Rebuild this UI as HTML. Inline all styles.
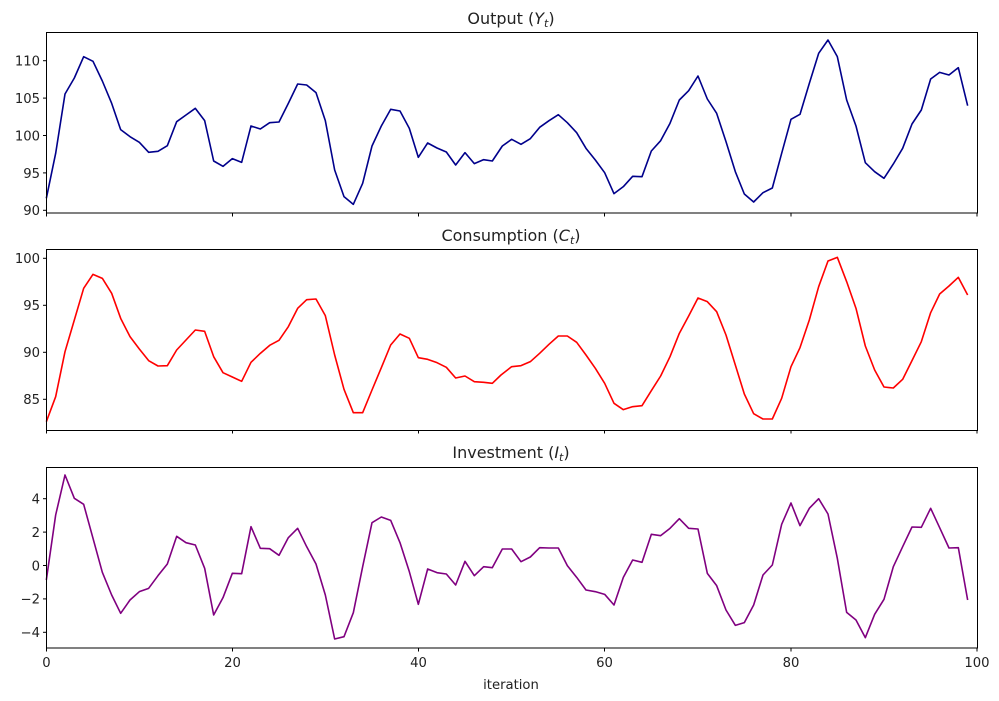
<!DOCTYPE html>
<html><head><meta charset="utf-8"><style>body{margin:0;background:#fff}svg{display:block}text{font-family:"DejaVu Sans","Liberation Sans",sans-serif;fill:#222}</style></head><body>
<svg width="999" height="701" viewBox="0 0 999 701" xmlns="http://www.w3.org/2000/svg">
<rect width="999" height="701" fill="#fff"/>
<g font-size="13.2">
<!-- Panel 1 -->
<text x="511" y="24" text-anchor="middle" font-size="16">Output (<tspan font-style="italic">Y</tspan><tspan font-style="italic" font-size="11" dy="3">t</tspan><tspan dy="-3">)</tspan></text>
<g transform="translate(0,20) scale(0.33333)">
<polyline fill="none" stroke="#00008b" stroke-width="1.6" vector-effect="non-scaling-stroke" stroke-linejoin="round" points="139,535 167,400 195,222 223,174 251,110 279,124 307,183 335,250 362,329 390,350 418,367 446,397 474,394 502,377 530,305 558,285 586,265 614,302 641,423 669,439 697,416 725,427 753,318 781,327 809,308 837,306 865,250 893,192 920,195 948,218 976,302 1004,450 1032,530 1060,553 1088,490 1116,378 1144,318 1172,268 1200,273 1228,325 1255,412 1283,369 1311,384 1339,396 1367,435 1395,398 1423,431 1451,419 1477,423 1507,378 1535,358 1563,373 1591,356 1619,322 1647,302 1675,284 1702,308 1730,338 1758,385 1786,420 1814,458 1842,521 1870,500 1898,469 1926,470 1954,393 1982,362 2010,310 2038,240 2066,212 2094,168 2122,237 2150,280 2178,365 2206,455 2233,522 2261,546 2289,518 2317,504 2345,400 2373,298 2400,283 2428,190 2456,100 2484,60 2512,110 2540,240 2568,318 2596,428 2624,455 2652,475 2680,432 2708,385 2736,312 2764,270 2792,177 2819,157 2847,165 2875,143 2903,257"/>
</g>
<rect x="46.5" y="32.5" width="931" height="180.5" fill="none" stroke="#000" stroke-width="1"/>
<g stroke="#000"><line x1="43" x2="46" y1="60.7" y2="60.7"/><line x1="43" x2="46" y1="98.1" y2="98.1"/><line x1="43" x2="46" y1="135.5" y2="135.5"/><line x1="43" x2="46" y1="172.9" y2="172.9"/><line x1="43" x2="46" y1="210.3" y2="210.3"/>
<line x1="46.5" x2="46.5" y1="213" y2="216.5"/><line x1="232.5" x2="232.5" y1="213" y2="216.5"/><line x1="418.5" x2="418.5" y1="213" y2="216.5"/><line x1="604.5" x2="604.5" y1="213" y2="216.5"/><line x1="791" x2="791" y1="213" y2="216.5"/><line x1="977" x2="977" y1="213" y2="216.5"/></g>
<g text-anchor="end"><text x="40" y="65.5">110</text><text x="40" y="103">105</text><text x="40" y="140.4">100</text><text x="40" y="177.8">95</text><text x="40" y="215.2">90</text></g>

<!-- Panel 2 -->
<text x="511" y="241" text-anchor="middle" font-size="16">Consumption (<tspan font-style="italic">C</tspan><tspan font-style="italic" font-size="11" dy="3">t</tspan><tspan dy="-3">)</tspan></text>
<g transform="translate(0,240) scale(0.33333)">
<polyline fill="none" stroke="#ff0000" stroke-width="1.6" vector-effect="non-scaling-stroke" stroke-linejoin="round" points="139,545 167,470 195,335 223,240 251,145 279,103 307,115 335,160 362,235 390,290 418,327 446,362 474,378 502,377 530,330 558,300 586,270 614,274 641,350 669,398 697,411 725,424 753,367 781,340 809,316 837,301 865,260 893,205 920,179 948,177 976,227 1004,345 1032,448 1060,518 1088,518 1116,450 1144,383 1172,315 1200,282 1228,295 1255,353 1283,358 1311,368 1339,382 1367,414 1395,408 1423,425 1451,427 1477,430 1503,405 1535,380 1563,377 1591,365 1619,340 1647,313 1675,288 1702,288 1730,307 1758,345 1786,385 1814,430 1842,490 1870,509 1898,500 1926,497 1954,452 1982,408 2010,350 2038,280 2066,228 2094,174 2122,185 2150,215 2178,285 2206,375 2233,462 2261,521 2289,537 2317,537 2345,475 2373,380 2400,323 2428,240 2456,140 2484,63 2512,52 2540,125 2568,205 2596,318 2624,390 2652,441 2680,444 2708,418 2736,362 2764,305 2792,218 2819,162 2847,138 2875,112 2903,165"/>
</g>
<rect x="46.5" y="249.5" width="931" height="181" fill="none" stroke="#000" stroke-width="1"/>
<g stroke="#000"><line x1="43" x2="46" y1="258.3" y2="258.3"/><line x1="43" x2="46" y1="305.3" y2="305.3"/><line x1="43" x2="46" y1="352.3" y2="352.3"/><line x1="43" x2="46" y1="399.3" y2="399.3"/>
<line x1="46.5" x2="46.5" y1="430" y2="433.5"/><line x1="232.5" x2="232.5" y1="430" y2="433.5"/><line x1="418.5" x2="418.5" y1="430" y2="433.5"/><line x1="604.5" x2="604.5" y1="430" y2="433.5"/><line x1="791" x2="791" y1="430" y2="433.5"/><line x1="977" x2="977" y1="430" y2="433.5"/></g>
<g text-anchor="end"><text x="40" y="263.1">100</text><text x="40" y="310.1">95</text><text x="40" y="357.1">90</text><text x="40" y="404.1">85</text></g>

<!-- Panel 3 -->
<text x="511" y="458" text-anchor="middle" font-size="16">Investment (<tspan font-style="italic">I</tspan><tspan font-style="italic" font-size="11" dy="3">t</tspan><tspan dy="-3">)</tspan></text>
<g transform="translate(0,455) scale(0.33333)">
<polyline fill="none" stroke="#800080" stroke-width="1.6" vector-effect="non-scaling-stroke" stroke-linejoin="round" points="139,375 167,180 195,60 223,130 251,148 279,250 307,352 335,420 362,475 390,435 418,410 446,400 474,362 502,327 530,244 558,263 586,270 614,340 641,480 669,428 697,355 725,356 753,215 781,280 809,281 837,301 865,248 893,220 920,275 948,327 976,420 1004,552 1032,545 1060,473 1088,335 1116,203 1144,186 1172,196 1200,263 1228,350 1255,448 1283,342 1311,353 1339,357 1367,390 1395,319 1423,362 1451,335 1477,338 1507,282 1535,282 1563,320 1591,306 1619,278 1647,279 1675,279 1702,332 1730,367 1758,405 1786,410 1814,418 1842,450 1870,367 1898,315 1926,322 1954,238 1982,242 2010,220 2038,191 2066,220 2094,222 2122,355 2150,392 2178,465 2206,511 2233,503 2261,450 2289,360 2317,330 2345,208 2373,144 2400,212 2428,160 2456,131 2484,177 2512,310 2540,472 2568,495 2596,548 2624,478 2652,433 2680,335 2708,275 2736,216 2764,217 2792,160 2819,218 2847,279 2875,278 2903,435"/>
</g>
<rect x="46.5" y="467.5" width="931" height="180.5" fill="none" stroke="#000" stroke-width="1"/>
<g stroke="#000"><line x1="43" x2="46" y1="498.7" y2="498.7"/><line x1="43" x2="46" y1="532.1" y2="532.1"/><line x1="43" x2="46" y1="565.5" y2="565.5"/><line x1="43" x2="46" y1="598.9" y2="598.9"/><line x1="43" x2="46" y1="632.3" y2="632.3"/>
<line x1="46.5" x2="46.5" y1="648" y2="651.5"/><line x1="232.5" x2="232.5" y1="648" y2="651.5"/><line x1="418.5" x2="418.5" y1="648" y2="651.5"/><line x1="604.5" x2="604.5" y1="648" y2="651.5"/><line x1="791" x2="791" y1="648" y2="651.5"/><line x1="977" x2="977" y1="648" y2="651.5"/></g>
<g text-anchor="end"><text x="40" y="503.5">4</text><text x="40" y="536.9">2</text><text x="40" y="570.3">0</text><text x="40" y="603.7">−2</text><text x="40" y="637.1">−4</text></g>
<g text-anchor="middle"><text x="46.5" y="667">0</text><text x="232.5" y="667">20</text><text x="418.5" y="667">40</text><text x="604.5" y="667">60</text><text x="791" y="667">80</text><text x="977" y="667">100</text>
<text x="511" y="689">iteration</text></g>
</g>
</svg>
</body></html>
